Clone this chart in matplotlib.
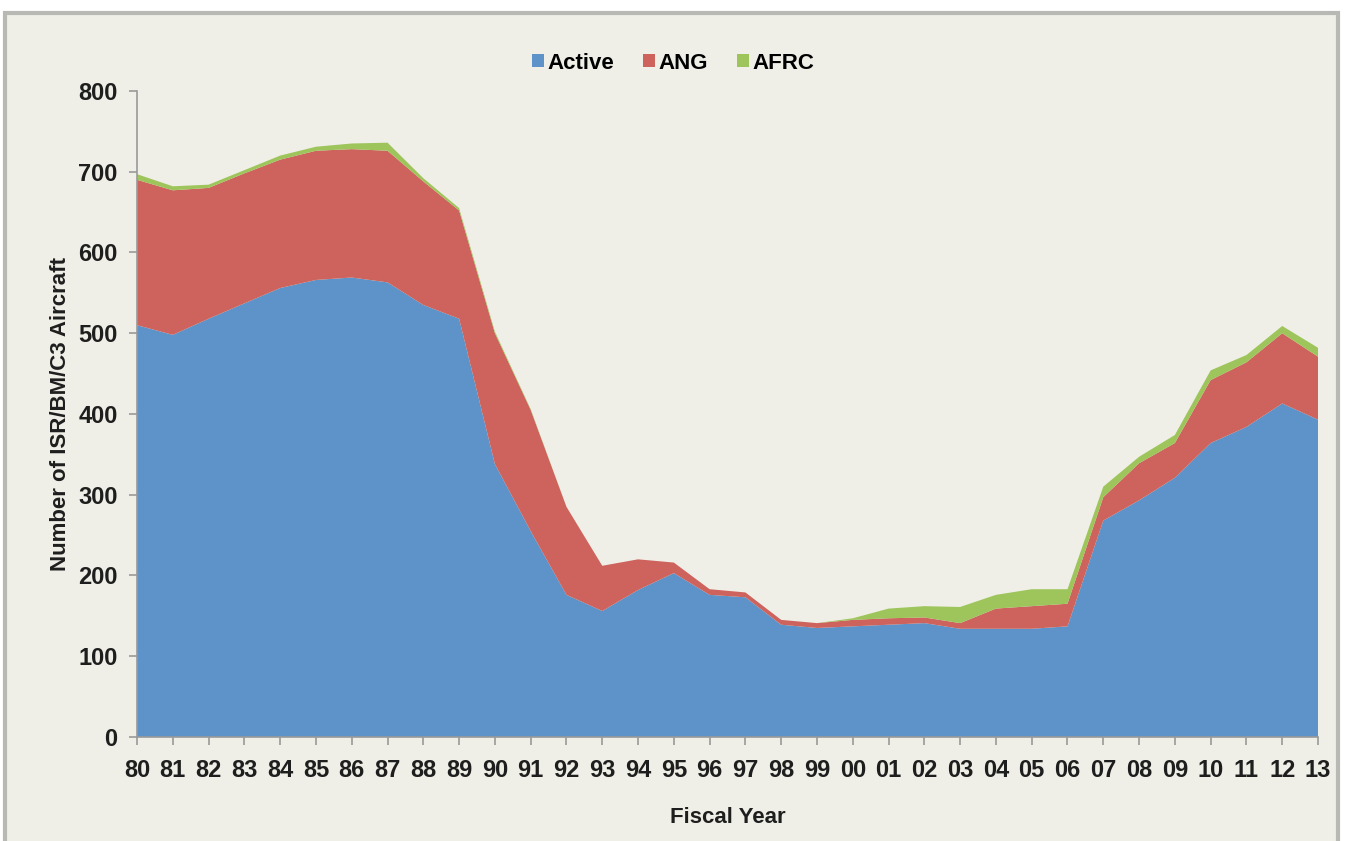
import matplotlib.pyplot as plt
import numpy as np
from matplotlib.patches import Patch, Rectangle

years = ['80', '81', '82', '83', '84', '85', '86', '87', '88', '89',
         '90', '91', '92', '93', '94', '95', '96', '97', '98', '99',
         '00', '01', '02', '03', '04', '05', '06', '07', '08', '09',
         '10', '11', '12', '13']
active = [510, 498, 518, 537, 556, 566, 569, 563, 535, 518,
          338, 255, 176, 156, 182, 203, 176, 173, 139, 135,
          137, 139, 141, 134, 134, 134, 137, 268, 293, 321,
          364, 384, 413, 393]
ang = [180, 179, 162, 161, 159, 160, 159, 163, 153, 134,
       162, 150, 109, 56, 38, 13, 7, 6, 6, 6,
       8, 8, 7, 7, 25, 28, 28, 29, 46, 43,
       78, 80, 87, 78]
afrc = [7, 5, 4, 4, 5, 5, 7, 10, 4, 3,
        2, 1, 0, 0, 0, 0, 0, 0, 0, 0,
        2, 12, 14, 20, 17, 21, 18, 13, 8, 10,
        12, 9, 9, 11]

bg = '#f0efe7'
colors = ['#5e93c9', '#cd635c', '#9dc55c']
plt.rcParams['font.family'] = ['Liberation Sans', 'DejaVu Sans']
plt.rcParams['font.weight'] = 'bold'

fig = plt.figure(figsize=(13.46, 8.41), dpi=100, facecolor='white')
# beige panel with grey frame
fig.patches.append(Rectangle((0.004, -0.02), 0.990, 1.005, transform=fig.transFigure,
                             facecolor=bg, edgecolor='#b8b8b4', linewidth=3, zorder=-1))

ax = fig.add_axes([0.1018, 0.1237, 0.8774, 0.7681])
ax.set_facecolor(bg)
x = np.arange(len(years))
ax.stackplot(x, active, ang, afrc, colors=colors, linewidth=0)

ax.set_xlim(0, len(years) - 1)
ax.set_ylim(0, 800)
ax.set_xticks(x)
ax.set_xticklabels(years)
ax.set_yticks(range(0, 801, 100))
ax.tick_params(axis='both', labelsize=17, colors='#999999', labelcolor='#1e1e1e',
               length=6, width=1.2, direction='out')
ax.tick_params(axis='x', pad=10)
ax.tick_params(axis='y', pad=8)
for s in ['top', 'right']:
    ax.spines[s].set_visible(False)
for s in ['left', 'bottom']:
    ax.spines[s].set_color('#999999')
    ax.spines[s].set_linewidth(1.2)

ax.set_xlabel('Fiscal Year', fontsize=16, fontweight='bold', color='#1e1e1e', labelpad=18)
ax.set_ylabel('Number of ISR/BM/C3 Aircraft', fontsize=16, fontweight='bold',
              color='#1e1e1e', labelpad=5)

handles = [Patch(facecolor=c, edgecolor='none') for c in colors]
fig.legend(handles, ['Active', 'ANG', 'AFRC'], loc='center', bbox_to_anchor=(0.5, 0.925),
           ncol=3, frameon=False, fontsize=16, handlelength=0.55, handleheight=0.55,
           handletextpad=0.15, columnspacing=1.3)

fig.savefig('out.png', dpi=100, facecolor='white')
